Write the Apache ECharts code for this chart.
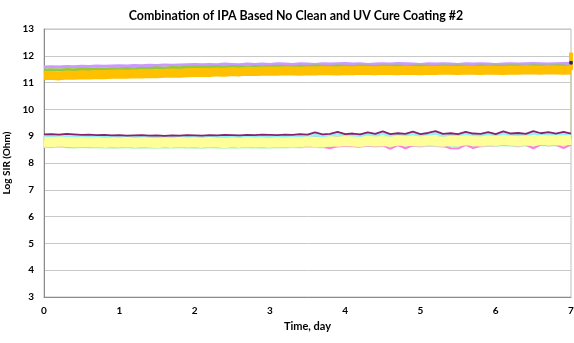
<!DOCTYPE html>
<html>
<head>
<meta charset="utf-8">
<script src="https://cdn.jsdelivr.net/npm/echarts@6/dist/echarts.min.js"></script>
<style>
  html, body { margin: 0; padding: 0; background: #fff; }
  #chart { width: 574px; height: 343px; }
</style>
</head>
<body>
<div id="chart"></div>
<script>
// Sampling times (days)
const times = [0,0.1,0.2,0.3,0.4,0.5,0.6,0.7,0.8,0.9,
  1,1.1,1.2,1.3,1.4,1.5,1.6,1.7,1.8,1.9,
  2,2.1,2.2,2.3,2.4,2.5,2.6,2.7,2.8,2.9,
  3,3.1,3.2,3.3,3.4,3.5,3.6,3.7,3.8,3.9,
  4,4.1,4.2,4.3,4.4,4.5,4.6,4.7,4.8,4.9,
  5,5.1,5.2,5.3,5.4,5.5,5.6,5.7,5.8,5.9,
  6,6.1,6.2,6.3,6.4,6.5,6.6,6.7,6.8,6.9,7];

// Upper group of boards (log SIR, ohm)
const lavender = [11.58,11.59,11.58,11.6,11.59,11.61,11.6,11.62,11.61,11.62,
  11.63,11.62,11.64,11.63,11.65,11.64,11.66,11.65,11.66,11.67,
  11.68,11.67,11.68,11.67,11.69,11.68,11.67,11.69,11.68,11.69,
  11.68,11.7,11.69,11.68,11.7,11.69,11.68,11.7,11.69,11.7,
  11.71,11.69,11.7,11.68,11.69,11.7,11.69,11.71,11.7,11.69,
  11.68,11.7,11.69,11.7,11.69,11.68,11.7,11.69,11.7,11.69,
  11.68,11.69,11.7,11.69,11.7,11.71,11.7,11.69,11.7,11.71,11.72];
const green = [11.47,11.48,11.47,11.49,11.48,11.5,11.49,11.51,11.5,11.52,
  11.52,11.53,11.52,11.54,11.53,11.55,11.54,11.56,11.55,11.57,
  11.58,11.57,11.58,11.59,11.58,11.6,11.59,11.58,11.6,11.59,
  11.6,11.61,11.6,11.59,11.61,11.6,11.62,11.61,11.6,11.62,
  11.61,11.6,11.62,11.61,11.6,11.62,11.61,11.62,11.6,11.61,
  11.62,11.61,11.6,11.62,11.61,11.62,11.61,11.6,11.62,11.61,
  11.62,11.61,11.63,11.62,11.61,11.63,11.62,11.61,11.63,11.62,11.6];
const gold = [11.26,11.27,11.25,11.28,11.27,11.29,11.28,11.3,11.29,11.31,
  11.32,11.31,11.33,11.32,11.34,11.33,11.35,11.36,11.35,11.37,
  11.38,11.39,11.38,11.4,11.39,11.41,11.4,11.42,11.41,11.42,
  11.43,11.42,11.44,11.43,11.42,11.44,11.43,11.45,11.44,11.43,
  11.45,11.44,11.46,11.45,11.44,11.46,11.45,11.44,11.46,11.45,
  11.44,11.46,11.45,11.47,11.46,11.45,11.47,11.46,11.45,11.47,
  11.46,11.45,11.47,11.46,11.48,11.47,11.46,11.48,11.47,11.46,11.47];

// Lower group of boards
const purple = [9.07,9.08,9.06,9.09,9.07,9.05,9.06,9.04,9.05,9.03,
  9.04,9.02,9.03,9.04,9.02,9.03,9.01,9.03,9.02,9.04,
  9.03,9.02,9.04,9.03,9.05,9.04,9.03,9.05,9.04,9.06,
  9.05,9.04,9.06,9.05,9.08,9.06,9.14,9.07,9.09,9.16,
  9.08,9.1,9.07,9.14,9.09,9.18,9.08,9.11,9.09,9.17,
  9.08,9.12,9.19,9.09,9.11,9.08,9.16,9.1,9.09,9.15,
  9.08,9.18,9.1,9.12,9.09,9.19,9.11,9.15,9.1,9.16,9.1];
const cyan = [9.0,9.01,8.99,9.02,9.0,8.98,8.99,8.97,8.98,8.96,
  8.97,8.95,8.96,8.97,8.95,8.96,8.94,8.96,8.95,8.97,
  8.96,8.95,8.97,8.96,8.98,8.97,8.96,8.98,8.97,8.99,
  8.98,8.97,8.99,8.98,9.01,8.99,9.05,9.0,9.02,9.07,
  9.01,9.03,9.0,9.06,9.02,9.09,9.01,9.04,9.02,9.08,
  9.01,9.05,9.1,9.02,9.04,9.01,9.08,9.03,9.02,9.07,
  9.01,9.09,9.03,9.05,9.02,9.1,9.04,9.07,9.03,9.08,9.03];
const paleYellow = [8.79,8.77,8.8,8.78,8.76,8.79,8.77,8.78,8.75,8.77,
  8.76,8.78,8.75,8.77,8.76,8.74,8.77,8.75,8.78,8.76,
  8.77,8.75,8.78,8.76,8.74,8.77,8.75,8.78,8.76,8.77,
  8.75,8.78,8.76,8.79,8.77,8.8,8.78,8.76,8.81,8.79,
  8.82,8.8,8.78,8.83,8.8,8.82,8.79,8.84,8.81,8.83,
  8.8,8.84,8.82,8.79,8.83,8.81,8.85,8.82,8.8,8.84,
  8.82,8.85,8.83,8.81,8.84,8.82,8.86,8.83,8.85,8.84,8.86];
const pink = [8.63,8.62,8.64,8.62,8.61,8.63,8.62,8.63,8.61,8.62,
  8.61,8.63,8.6,8.62,8.61,8.6,8.62,8.6,8.63,8.61,
  8.62,8.6,8.63,8.61,8.6,8.62,8.6,8.63,8.61,8.62,
  8.6,8.63,8.61,8.64,8.62,8.64,8.63,8.61,8.55,8.63,
  8.65,8.64,8.62,8.66,8.64,8.66,8.53,8.67,8.55,8.66,
  8.64,8.67,8.66,8.64,8.55,8.54,8.68,8.56,8.64,8.67,
  8.66,8.68,8.67,8.65,8.68,8.55,8.69,8.66,8.68,8.56,8.69];
const mint = [8.6,8.59,8.61,8.59,8.57,8.6,8.58,8.59,8.57,8.58,
  8.57,8.59,8.56,8.58,8.57,8.56,8.58,8.57,8.59,8.57,
  8.58,8.56,8.59,8.57,8.56,8.58,8.57,8.59,8.57,8.58,
  8.57,8.59,8.58,8.6,8.58,8.61,8.6,8.58,8.62,8.6,
  8.63,8.61,8.59,8.64,8.61,8.63,8.6,8.65,8.62,8.64,
  8.61,8.65,8.63,8.6,8.64,8.62,8.66,8.63,8.61,8.65,
  8.63,8.66,8.64,8.62,8.65,8.63,8.67,8.64,8.66,8.65,8.67];

// Final-reading events at day 7
const goldEndTimes = [7, 7];
const goldEndValues = [11.47, 12.12];
const navyTimes = [7];
const navyValues = [11.74];
const dropTimes = [7, 7];
const dropValues = [11.5, 8.9];

// Axis ticks
const xTicks = [0, 1, 2, 3, 4, 5, 6, 7];
const yTicks = [3, 4, 5, 6, 7, 8, 9, 10, 11, 12, 13];

const pair = (ts, vs) => ts.map((t, i) => [t, vs[i]]);

function lineSeries(name, ts, vs, color, width, z) {
  return {
    name, type: 'line', data: pair(ts, vs), showSymbol: false,
    lineStyle: { color, width, cap: 'butt', join: 'round' },
    itemStyle: { color }, z: z, animation: false, clip: false
  };
}

const series = [
  lineSeries('Board 10', times, mint, '#c6f5c6', 2, 2),
  lineSeries('Board 9', times, pink, '#ff80d8', 2, 3),
  lineSeries('Board 7', times, cyan, '#8ff5f0', 2.5, 4),
  lineSeries('Board 8', times, paleYellow, '#ffff99', 10, 5),
  lineSeries('Board 6', times, purple, '#8a2070', 1.8, 6),
  lineSeries('Board 11', dropTimes, dropValues, '#c4d0a8', 1.5, 3),
  lineSeries('Board 1', times, lavender, '#cc99ff', 3, 2),
  lineSeries('Board 2', times, green, '#92c83e', 3, 3),
  lineSeries('Board 4', times, gold, '#ffc000', 9, 5),
  lineSeries('Board 4 end', goldEndTimes, goldEndValues, '#ffc000', 4, 5),
  {
    name: 'Board 5', type: 'line', data: pair(navyTimes, navyValues),
    symbol: 'circle', symbolSize: 4, showSymbol: true,
    itemStyle: { color: '#1f2a6b' }, z: 7, animation: false
  }
];

const chart = echarts.init(document.getElementById('chart'), null, { renderer: 'canvas' });
chart.setOption({
  backgroundColor: '#ffffff',
  animation: false,
  title: {
    text: 'Combination of IPA Based No Clean and UV Cure Coating #2',
    left: 291, top: 5, textAlign: 'center',
    textStyle: { fontFamily: 'Lato', fontWeight: 'bold', fontSize: 12.4, color: '#000' }
  },
  grid: {
    left: 44, right: 3, top: 29, bottom: 46,
    outerBoundsMode: 'none', containLabel: false,
    show: true, borderColor: '#bfbfbf', borderWidth: 1, backgroundColor: '#fff'
  },
  xAxis: {
    type: 'value', min: xTicks[0], max: xTicks[xTicks.length - 1], interval: 1,
    name: 'Time, day', nameLocation: 'middle', nameGap: 22,
    nameTextStyle: { fontFamily: 'Lato', fontWeight: 'bold', fontSize: 11, color: '#000' },
    axisLine: { show: true, lineStyle: { color: '#8c8c8c', width: 1 } },
    axisTick: { show: false },
    splitLine: { show: false },
    axisLabel: { fontFamily: 'Lato', fontWeight: 'bold', fontSize: 10, color: '#000', margin: 9 }
  },
  yAxis: {
    type: 'value', min: yTicks[0], max: yTicks[yTicks.length - 1], interval: 1,
    name: 'Log SIR (Ohm)', nameLocation: 'middle', nameGap: 23, nameRotate: 90,
    nameTextStyle: { fontFamily: 'Lato', fontWeight: 'bold', fontSize: 10, color: '#000' },
    axisLine: { show: true, lineStyle: { color: '#8c8c8c', width: 1 } },
    axisTick: { show: false },
    splitLine: { show: true, lineStyle: { color: '#c8c8c8', width: 1 } },
    axisLabel: { fontFamily: 'Lato', fontWeight: 'bold', fontSize: 10, color: '#000', margin: 10 }
  },
  series
});
</script>
</body>
</html>
